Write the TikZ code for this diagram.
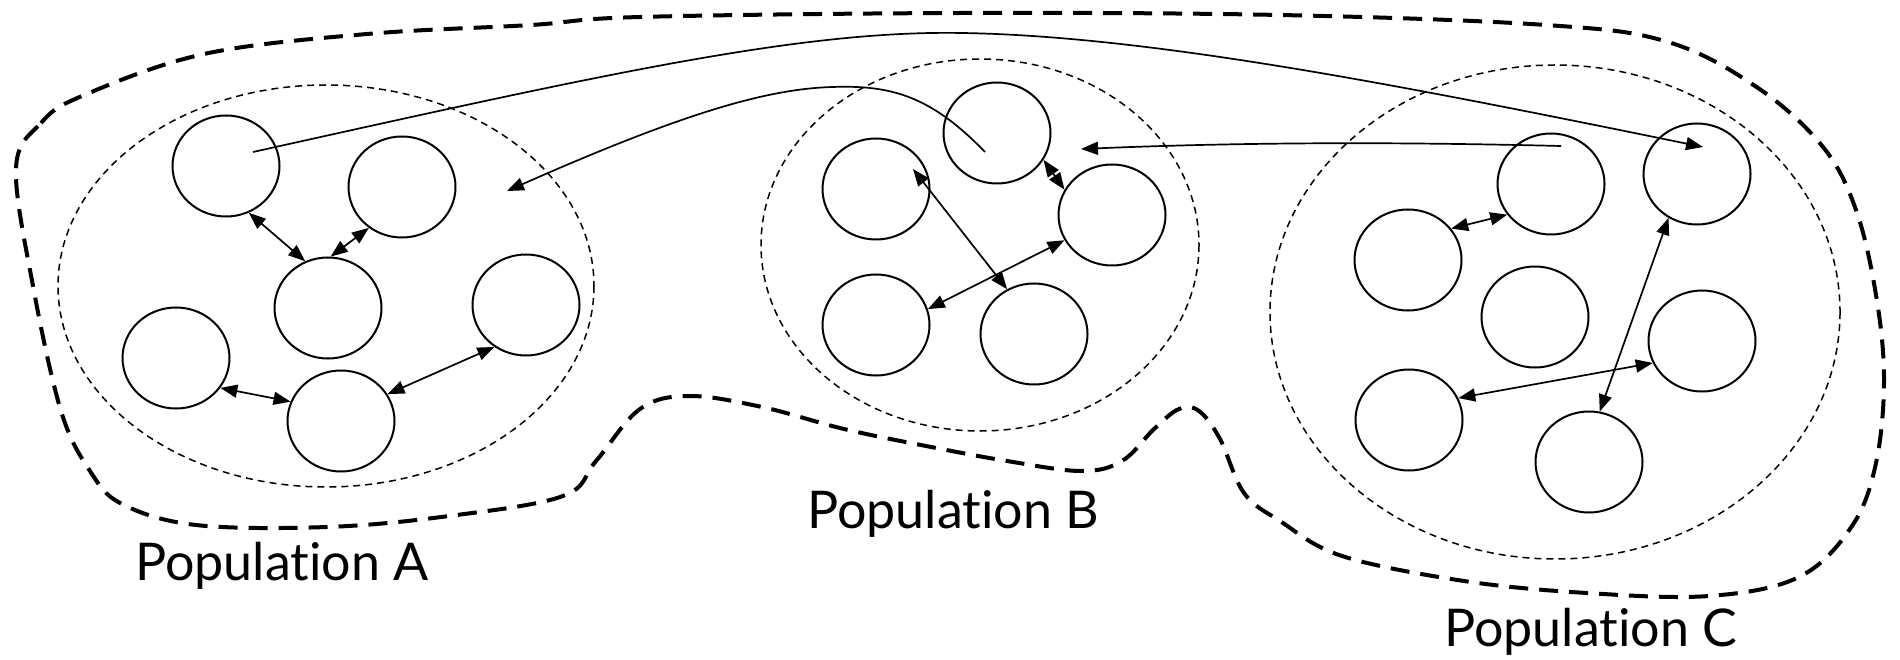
\documentclass[tikz,border=0pt]{standalone}
\usepackage{fontspec}
\setmainfont[Ligatures={NoCommon}]{Lato}
\usetikzlibrary{shapes.geometric,arrows.meta,calc}

\begin{document}
\begin{tikzpicture}[x=1pt,y=-1pt,
  cell/.style={ellipse, draw, line width=2pt, minimum width=107pt, minimum height=101pt, inner sep=0pt},
  link/.style={line width=1.7pt, {Triangle[length=17pt,width=13pt]}-{Triangle[length=17pt,width=13pt]}},
  oneway/.style={line width=1.7pt, -{Triangle[length=17pt,width=13pt]}},
  popzone/.style={line width=1.5pt, dash pattern=on 7pt off 5pt},
  boundary/.style={line width=4pt, dash pattern=on 19pt off 11pt},
  lbl/.style={font=\fontsize{52}{60}\selectfont, inner sep=0pt, anchor=base west}
]
\useasboundingbox (0,0) rectangle (1900,660);

% outer boundary around the three populations
\draw[boundary] plot[smooth cycle, tension=0.6] coordinates {
  (16,168) (41,123) (82,96) (204,54) (367,34) (531,25) (640,17) (960,13)
  (1280,15) (1546,25) (1668,42) (1758,88) (1823,147) (1856,210) (1876,295)
  (1884,379) (1876,463) (1852,526) (1799,577) (1709,596) (1587,593) (1464,581)
  (1342,556) (1280,521) (1244,493) (1220,439) (1199,411) (1179,409) (1154,429)
  (1122,461) (1081,471) (1007,461) (926,446) (844,429) (762,407) (689,396)
  (640,409) (596,461) (563,496) (449,516) (327,527) (196,525) (122,504)
  (90,471) (61,411) (33,286)};

% population zones
\draw[popzone] (326,286) ellipse [x radius=268, y radius=201];
\draw[popzone] (980,245) ellipse [x radius=219, y radius=186];
\draw[popzone] (1555,312) ellipse [x radius=285, y radius=247];

% population A
\node[cell] (A1) at (226,166) {};
\node[cell] (A2) at (402,187) {};
\node[cell] (A3) at (328,308) {};
\node[cell] (A4) at (176,358) {};
\node[cell] (A5) at (341,421) {};
\node[cell] (A6) at (526,305) {};

% population B
\node[cell] (B1) at (997,133) {};
\node[cell] (B2) at (876,189) {};
\node[cell] (B3) at (1112,215) {};
\node[cell] (B4) at (876,325) {};
\node[cell] (B5) at (1034,334) {};

% population C
\node[cell] (C1) at (1551,184) {};
\node[cell] (C2) at (1697,174) {};
\node[cell] (C3) at (1408,260) {};
\node[cell] (C4) at (1535,317) {};
\node[cell] (C5) at (1702,341) {};
\node[cell] (C6) at (1409,420) {};
\node[cell] (C7) at (1589,462) {};

% links inside each population
\draw[link] (A1.-64) -- (A3.116);
\draw[link] (A2.-129) -- (A3.87);
\draw[link] (A4.-34) -- (A5.159);
\draw[link] (A5.30) -- (A6.-127);

\draw[link] (B1.-30) -- (B3.152);
\draw[link] ($(B2)+(37,-20)$) -- (B5.121);
\draw[link] (B4.17) -- (B3.-152);

\draw[link] (C3.36) -- (C1.-145);
\draw[link] (C6.24) -- (C5.-156);
\draw[link] (C7.78) -- (C2.-123);

% migration between populations
\coordinate (aIn) at (507,191);
\coordinate (bIn) at (1081,149);
\draw[oneway] ($(A1)+(27,-14)$) .. controls (600,75) and (800,30) .. (962,33)
  .. controls (1150,36) and (1400,85) .. ($(C2)+(6,-27)$);
\draw[oneway] ($(B1)+(-12,19)$) .. controls (930,95) and (890,85) .. (832,87)
  .. controls (770,89) and (690,110) .. (aIn);
\draw[oneway] ($(C1)+(10,-38)$) .. controls (1400,142) and (1250,142) .. (bIn);

% labels
\node[lbl] (labA) at (135,580) {Population A};
\node[lbl] (labB) at (807,528) {Population B};
\node[lbl] (labC) at (1444,646) {Population C};
\end{tikzpicture}
\end{document}
